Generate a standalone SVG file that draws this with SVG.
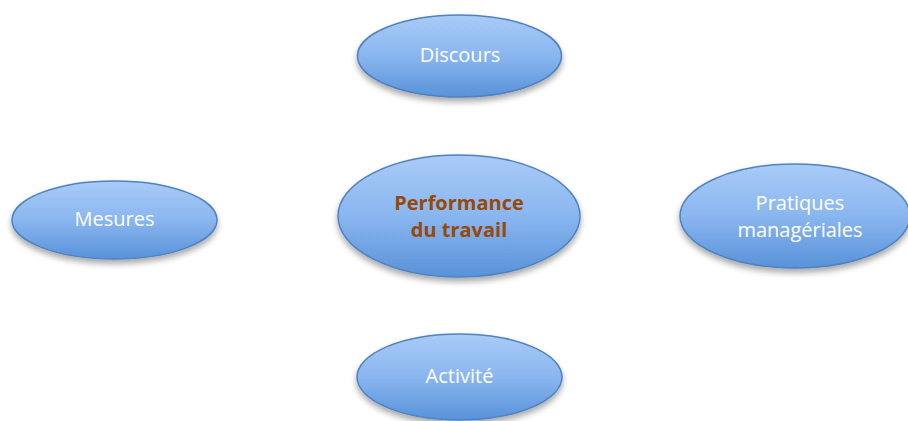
<svg xmlns="http://www.w3.org/2000/svg" width="908" height="421" viewBox="0 0 908 421">
<defs>
<linearGradient id="g" x1="0" y1="0" x2="0" y2="1">
<stop offset="0" stop-color="#a9cbf7"/>
<stop offset="0.5" stop-color="#8ab6ef"/>
<stop offset="1" stop-color="#5892d9"/>
</linearGradient>
<filter id="sh" x="-20%" y="-20%" width="140%" height="160%">
<feGaussianBlur in="SourceAlpha" stdDeviation="3"/>
<feOffset dy="4"/>
<feComponentTransfer><feFuncA type="linear" slope="0.35"/></feComponentTransfer>
<feMerge><feMergeNode/><feMergeNode in="SourceGraphic"/></feMerge>
</filter>
</defs>
<style>
.n{fill:url(#g);stroke:#4f82c0;stroke-width:1.5;filter:url(#sh)}
.t{font-family:"Open Sans","Liberation Sans",sans-serif;font-size:20px;fill:#ffffff;text-anchor:middle}
.c{font-family:"Open Sans","Liberation Sans",sans-serif;font-size:20px;font-weight:bold;fill:#984807;text-anchor:middle}
</style>
<rect width="908" height="421" fill="#ffffff"/>
<g id="connectors"/>
<g id="discours"><ellipse class="n" cx="459.5" cy="56" rx="102" ry="41"/><text class="t" x="460" y="62">Discours</text></g>
<g id="performance"><ellipse class="n" cx="459" cy="216" rx="121" ry="61"/><text class="c" x="459" y="210">Performance</text><text class="c" x="459" y="237">du travail</text></g>
<g id="mesures"><ellipse class="n" cx="114.5" cy="220" rx="102.5" ry="39"/><text class="t" x="114.5" y="226">Mesures</text></g>
<g id="pratiques"><ellipse class="n" cx="795" cy="216" rx="115" ry="52"/><text class="t" x="800" y="210">Pratiques</text><text class="t" x="800" y="237">managériales</text></g>
<g id="activite"><ellipse class="n" cx="459.5" cy="377" rx="102.5" ry="43"/><text class="t" x="459.5" y="383">Activité</text></g>
</svg>
